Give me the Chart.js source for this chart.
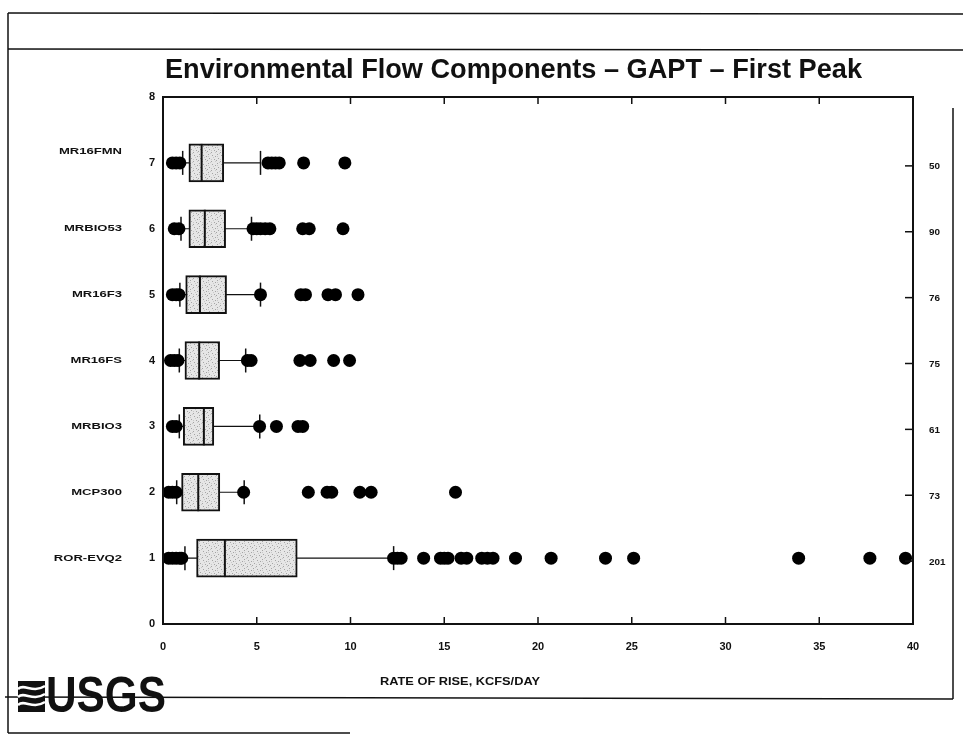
<!DOCTYPE html>
<html>
<head>
<meta charset="utf-8">
<script src="https://cdn.jsdelivr.net/npm/chart.js@4/dist/chart.umd.min.js"></script>
<style>
html, body { margin: 0; padding: 0; background: #fff; }
</style>
</head>
<body>
<canvas id="chart" width="963" height="736"></canvas>
<script>
// rows from bottom (1) to top (7)
const positions = [1, 2, 3, 4, 5, 6, 7];
const categories = ['ROR-EVQ2', 'MCP300', 'MRBIO3', 'MR16FS', 'MR16F3', 'MRBIO53', 'MR16FMN'];
const counts = [201, 73, 61, 75, 76, 90, 50];
const whiskerLow = [1.17, 0.73, 0.87, 0.87, 0.90, 0.96, 1.05];
const q1 = [1.79, 0.99, 1.08, 1.17, 1.21, 1.38, 1.38];
const median = [3.30, 1.88, 2.18, 1.93, 1.97, 2.23, 2.06];
const q3 = [7.16, 3.03, 2.71, 3.02, 3.39, 3.34, 3.24];
const whiskerHigh = [12.3, 4.33, 5.16, 4.41, 5.2, 4.72, 5.2];
const outliers = [
  [0.3, 0.5, 0.7, 0.9, 1.0, 12.3, 12.5, 12.7, 13.9, 14.8, 15.0, 15.2, 15.9, 16.2, 17.0, 17.3, 17.6, 18.8, 20.7, 23.6, 25.1, 33.9, 37.7, 39.6],
  [0.3, 0.5, 0.7, 4.3, 7.75, 8.75, 9.0, 10.5, 11.1, 15.6],
  [0.5, 0.7, 5.15, 6.05, 7.2, 7.45],
  [0.4, 0.6, 0.8, 4.5, 4.7, 7.3, 7.85, 9.1, 9.95],
  [0.5, 0.7, 0.85, 5.2, 7.35, 7.6, 8.8, 9.2, 10.4],
  [0.6, 0.85, 4.8, 5.0, 5.2, 5.45, 5.7, 7.45, 7.8, 9.6],
  [0.5, 0.7, 0.9, 5.6, 5.8, 6.0, 6.2, 7.5, 9.7]
];
const xTicks = [0, 5, 10, 15, 20, 25, 30, 35, 40];
const yTicks = [0, 1, 2, 3, 4, 5, 6, 7, 8];

const canvas = document.getElementById('chart');
const ctx0 = canvas.getContext('2d');
const FONT = '"Liberation Sans", Arial, sans-serif';

// light grey speckle for the boxes
function stipple() {
  const c = document.createElement('canvas');
  c.width = 9; c.height = 9;
  const g = c.getContext('2d');
  g.fillStyle = '#e6e6e6';
  g.fillRect(0, 0, 9, 9);
  g.fillStyle = '#a4a4a4';
  [[1, 1], [5, 2], [2, 5], [7, 6], [4, 8], [8, 3], [0, 7]].forEach(p => g.fillRect(p[0], p[1], 1, 1));
  g.fillStyle = '#c8c8c8';
  [[3, 0], [6, 4], [1, 3], [4, 6], [8, 8]].forEach(p => g.fillRect(p[0], p[1], 1, 1));
  return ctx0.createPattern(c, 'repeat');
}

// draw text stretched horizontally; align 'left' or 'right' at x
function wideText(ctx, txt, x, base, sx, font, align) {
  ctx.font = font;
  const w = ctx.measureText(txt).width * sx;
  ctx.save();
  ctx.translate(align === 'right' ? x - w : x, base);
  ctx.scale(sx, 1);
  ctx.textAlign = 'left';
  ctx.fillText(txt, 0, 0);
  ctx.restore();
}

function fitText(ctx, txt, left, base, width, font) {
  ctx.font = font;
  wideText(ctx, txt, left, base, width / ctx.measureText(txt).width, font, 'left');
}

function seg(ctx, x1, y1, x2, y2) {
  ctx.beginPath();
  ctx.moveTo(x1, y1);
  ctx.lineTo(x2, y2);
  ctx.stroke();
}

const decor = {
  id: 'decor',
  afterDraw(chart) {
    const { ctx, chartArea: a, scales: { x, y } } = chart;
    ctx.save();
    ctx.fillStyle = '#111';
    ctx.strokeStyle = '#111';

    // page frame
    ctx.lineWidth = 1.5;
    seg(ctx, 8, 13, 963, 14);
    seg(ctx, 8, 49, 963, 50);
    seg(ctx, 8, 13, 8, 733);
    seg(ctx, 8, 733, 350, 733);
    seg(ctx, 5, 697, 953, 699);
    seg(ctx, 953, 108, 953, 699);

    // plot box
    ctx.lineWidth = 2;
    ctx.strokeRect(a.left, a.top, a.right - a.left, a.bottom - a.top);

    // inward ticks
    ctx.lineWidth = 1.5;
    xTicks.slice(1, -1).forEach(v => {
      const px = x.getPixelForValue(v);
      seg(ctx, px, a.bottom, px, a.bottom - 7);
      seg(ctx, px, a.top, px, a.top + 7);
    });
    positions.forEach(p => {
      const py = y.getPixelForValue(p) + 3;
      seg(ctx, a.right, py, a.right - 8, py);
    });

    // names and counts
    ctx.textBaseline = 'middle';
    categories.forEach((c, i) => {
      const dy = positions[i] === 7 ? -11 : 0;
      wideText(ctx, c, 122, y.getPixelForValue(positions[i]) + dy, 1.45, 'bold 9px ' + FONT, 'right');
    });
    counts.forEach((c, i) => wideText(ctx, String(c), 929, y.getPixelForValue(positions[i]) + 4, 1.1, 'bold 9px ' + FONT, 'left'));
    ctx.textBaseline = 'alphabetic';

    // title and axis title
    fitText(ctx, 'Environmental Flow Components \u2013 GAPT \u2013 First Peak', 165, 78, 697, 'bold 28px ' + FONT);
    fitText(ctx, 'RATE OF RISE, KCFS/DAY', 380, 685, 160, 'bold 11px ' + FONT);

    // USGS logo
    ctx.fillRect(18, 681, 27, 31);
    ctx.strokeStyle = '#fff';
    ctx.lineWidth = 2.5;
    [689, 697, 705].forEach(wy => {
      ctx.beginPath();
      ctx.moveTo(18, wy);
      ctx.bezierCurveTo(25, wy - 6, 32, wy + 5, 45, wy - 3);
      ctx.stroke();
    });
    fitText(ctx, 'USGS', 46, 712, 120, 'bold 50px ' + FONT);
    ctx.restore();
  }
};

const whiskerSets = positions.map((p, i) => ({
  type: 'line',
  data: [{ x: whiskerLow[i], y: p }, { x: whiskerHigh[i], y: p }],
  borderColor: '#111',
  borderWidth: 1.2,
  pointRadius: 0,
  order: 5
}));

new Chart(canvas, {
  type: 'bar',
  data: {
    datasets: [
      {
        type: 'scatter',
        data: outliers.flatMap((arr, i) => arr.map(v => ({ x: v, y: positions[i] }))),
        pointRadius: 6.5,
        pointBackgroundColor: '#000',
        pointBorderColor: '#000',
        pointBorderWidth: 0,
        order: 0
      },
      {
        type: 'scatter',
        data: positions.map((p, i) => ({ x: median[i], y: p })),
        pointStyle: 'line',
        rotation: 90,
        pointRadius: 19,
        pointBorderColor: '#111',
        pointBorderWidth: 2,
        order: 1
      },
      {
        type: 'scatter',
        data: positions.flatMap((p, i) => [{ x: whiskerLow[i], y: p }, { x: whiskerHigh[i], y: p }]),
        pointStyle: 'line',
        rotation: 90,
        pointRadius: 12,
        pointBorderColor: '#111',
        pointBorderWidth: 1.5,
        order: 2
      },
      {
        type: 'bar',
        indexAxis: 'y',
        data: positions.map((p, i) => ({ y: p, x: [q1[i], q3[i]] })),
        backgroundColor: stipple(),
        borderColor: '#111',
        borderWidth: 2,
        borderSkipped: false,
        barThickness: 38,
        order: 3
      },
      ...whiskerSets
    ]
  },
  options: {
    responsive: false,
    animation: false,
    events: [],
    layout: { padding: { left: 123, right: 50, top: 97, bottom: 72 } },
    plugins: { legend: { display: false }, tooltip: { enabled: false }, title: { display: false } },
    scales: {
      x: {
        type: 'linear',
        position: 'bottom',
        min: 0,
        max: 40,
        offset: false,
        afterBuildTicks: s => { s.ticks = xTicks.map(v => ({ value: v })); },
        afterFit: s => { s.height = 40; },
        ticks: { color: '#111', padding: 16, font: { family: FONT, size: 11, weight: 'bold' }, maxRotation: 0 },
        grid: { display: false, drawTicks: false, tickLength: 0 },
        border: { display: false }
      },
      y: {
        type: 'linear',
        position: 'left',
        min: 0,
        max: 8,
        offset: false,
        afterBuildTicks: s => { s.ticks = yTicks.map(v => ({ value: v })); },
        afterFit: s => { s.width = 40; },
        ticks: { color: '#111', padding: 8, font: { family: FONT, size: 11, weight: 'bold' } },
        grid: { display: false, drawTicks: false, tickLength: 0 },
        border: { display: false }
      }
    }
  },
  plugins: [decor]
});
</script>
</body>
</html>
